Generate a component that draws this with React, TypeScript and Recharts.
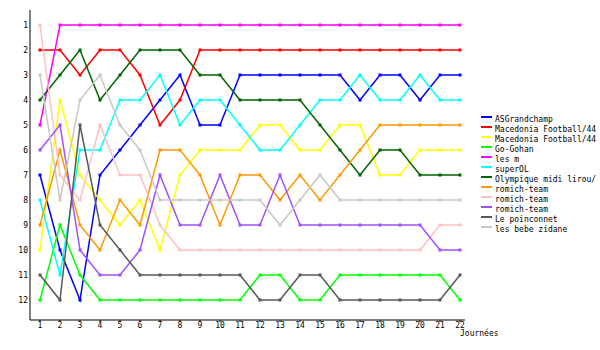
import { LineChart, Line, XAxis, YAxis } from 'recharts';

// rank per journée (1 = top)
const JOURNEES = [1, 2, 3, 4, 5, 6, 7, 8, 9, 10, 11, 12, 13, 14, 15, 16, 17, 18, 19, 20, 21, 22];
const RANKS = [1, 2, 3, 4, 5, 6, 7, 8, 9, 10, 11, 12];

const ASGRANDCHAMP = [7, 10, 12, 7, 6, 5, 4, 3, 5, 5, 3, 3, 3, 3, 3, 3, 4, 3, 3, 4, 3, 3];
const MACEDONIA_A = [2, 2, 3, 2, 2, 3, 5, 4, 2, 2, 2, 2, 2, 2, 2, 2, 2, 2, 2, 2, 2, 2];
const MACEDONIA_B = [10, 4, 7, 8, 9, 8, 10, 7, 6, 6, 6, 5, 5, 6, 6, 5, 5, 7, 7, 6, 6, 6];
const GO_GOHAN = [12, 9, 11, 12, 12, 12, 12, 12, 12, 12, 12, 11, 11, 12, 12, 11, 11, 11, 11, 11, 11, 12];
const LES_M = [5, 1, 1, 1, 1, 1, 1, 1, 1, 1, 1, 1, 1, 1, 1, 1, 1, 1, 1, 1, 1, 1];
const SUPEROL = [8, 11, 6, 6, 4, 4, 3, 5, 4, 4, 5, 6, 6, 5, 4, 4, 3, 4, 4, 3, 4, 4];
const OLYMPIQUE = [4, 3, 2, 4, 3, 2, 2, 2, 3, 3, 4, 4, 4, 4, 5, 6, 7, 6, 6, 7, 7, 7];
const ROMICH_A = [9, 6, 9, 10, 8, 9, 6, 6, 7, 9, 7, 7, 8, 7, 8, 7, 6, 5, 5, 5, 5, 5];
const ROMICH_B = [1, 7, 8, 5, 7, 7, 9, 10, 10, 10, 10, 10, 10, 10, 10, 10, 10, 10, 10, 10, 9, 9];
const ROMICH_C = [6, 5, 10, 11, 11, 10, 7, 9, 9, 7, 9, 9, 7, 9, 9, 9, 9, 9, 9, 9, 10, 10];
const POINCONNET = [11, 12, 5, 9, 10, 11, 11, 11, 11, 11, 11, 12, 12, 11, 11, 12, 12, 12, 12, 12, 12, 11];
const BEBE_ZIDANE = [3, 8, 4, 3, 5, 6, 8, 8, 8, 8, 8, 8, 9, 8, 7, 8, 8, 8, 8, 8, 8, 8];

const SERIES = [
  { key: 'asg', name: 'ASGrandchamp', color: '#0000ff', values: ASGRANDCHAMP },
  { key: 'macA', name: 'Macedonia Football/44', color: '#ff0000', values: MACEDONIA_A },
  { key: 'macB', name: 'Macedonia Football/44', color: '#ffff00', values: MACEDONIA_B },
  { key: 'gog', name: 'Go-Gohan', color: '#00ff00', values: GO_GOHAN },
  { key: 'lesm', name: 'les m', color: '#ff00ff', values: LES_M },
  { key: 'sol', name: 'superOL', color: '#00ffff', values: SUPEROL },
  { key: 'oml', name: 'Olympique midi lirou/', color: '#006400', values: OLYMPIQUE },
  { key: 'romA', name: 'romich-team', color: '#ff9900', values: ROMICH_A },
  { key: 'romB', name: 'romich-team', color: '#ffc0c0', values: ROMICH_B },
  { key: 'romC', name: 'romich-team', color: '#a050ff', values: ROMICH_C },
  { key: 'poi', name: 'Le poinconnet', color: '#585858', values: POINCONNET },
  { key: 'bbz', name: 'les bebe zidane', color: '#c8c8c8', values: BEBE_ZIDANE },
];

const data = JOURNEES.map((j, i) => {
  const row: Record<string, number> = { j };
  SERIES.forEach((s) => (row[s.key] = s.values[i]));
  return row;
});

const FONT = 'DejaVu Sans Mono';
const TICK = { fontSize: 8, fill: '#000', fontFamily: FONT };

function Legend() {
  return (
    <div style={{ position: 'absolute', left: 481, top: 115, fontFamily: FONT, fontSize: 8 }}>
      {SERIES.map((s) => (
        <div key={s.key} style={{ position: 'relative', height: 10, lineHeight: '10px', whiteSpace: 'nowrap' }}>
          <span style={{ position: 'absolute', left: 0, top: 1, width: 11, height: 2, background: s.color }} />
          <span style={{ position: 'absolute', left: 14, top: 0, color: '#000' }}>{s.name}</span>
        </div>
      ))}
    </div>
  );
}

export default function App() {
  return (
    <div style={{ position: 'absolute', left: 0, top: 0, width: 600, height: 350, background: '#fff' }}>
      <LineChart width={600} height={350} data={data} margin={{ top: 10, right: 135, bottom: 0, left: 0 }}>
        <XAxis
          type="number"
          dataKey="j"
          domain={[0.5, 22.25]}
          ticks={JOURNEES}
          interval={0}
          allowDataOverflow
          height={30}
          tickSize={2}
          tickMargin={0}
          tick={TICK}
          tickLine={{ stroke: '#000' }}
          axisLine={{ stroke: '#000' }}
        />
        <YAxis
          type="number"
          domain={[0.4, 12.8]}
          reversed
          ticks={RANKS}
          interval={0}
          allowDataOverflow
          width={30}
          tickSize={0}
          tickMargin={2}
          tickLine={false}
          tick={TICK}
          axisLine={{ stroke: '#000' }}
        />
        {SERIES.map((s) => (
          <Line
            key={s.key}
            type="linear"
            dataKey={s.key}
            name={s.name}
            stroke={s.color}
            strokeWidth={1.5}
            isAnimationActive={false}
            dot={(p: any) => (
              <rect key={`${s.key}-${p.index}`} x={p.cx - 1.5} y={p.cy - 1.5} width={3} height={3} fill={s.color} />
            )}
            activeDot={false}
          />
        ))}
      </LineChart>
      <Legend />
      <div style={{ position: 'absolute', left: 460, top: 330, fontFamily: FONT, fontSize: 8, lineHeight: '8px' }}>
        Journées
      </div>
    </div>
  );
}
